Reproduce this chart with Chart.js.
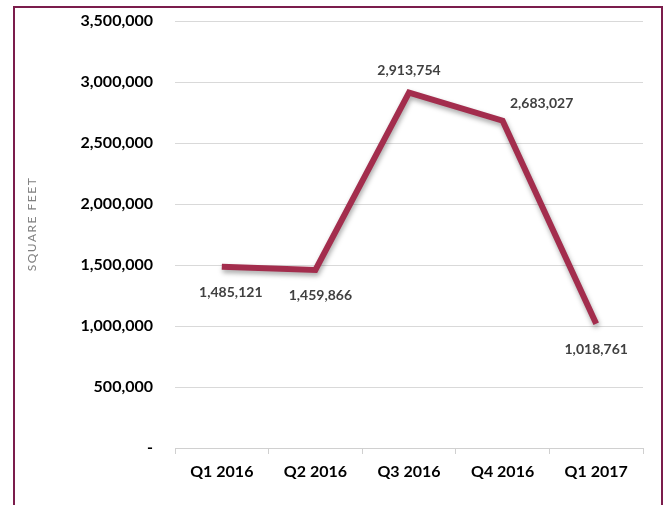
<!DOCTYPE html>
<html>
<head>
<meta charset="utf-8">
<script src="https://cdn.jsdelivr.net/npm/chart.js@4"></script>
<style>
  html, body { margin: 0; padding: 0; background: #fff; }
  #frame {
    position: absolute; left: 13px; top: 6px; width: 646px; height: 520px;
    border: 2px solid #7b1d4c;
  }
  #wrap { position: absolute; left: 0; top: 0; width: 665px; height: 505px; }
</style>
</head>
<body>
<div id="frame"></div>
<div id="wrap"><canvas id="lineChart" width="665" height="505"></canvas></div>
<script>
// Quarterly values (square feet)
const quarters = ['Q1 2016', 'Q2 2016', 'Q3 2016', 'Q4 2016', 'Q1 2017'];
const squareFeet = [1485121, 1459866, 2913754, 2683027, 1018761];
const yTicks = [0, 500000, 1000000, 1500000, 2000000, 2500000, 3000000, 3500000];

// where each value label sits relative to its point (px)
const labelOffsets = [[9, 26], [5, 26], [0, -22], [39, -17], [0, 26]];

const fontFamily = 'Lato, "Open Sans", sans-serif';

function fmt(v) {
    return v === 0 ? '-' : v.toLocaleString('en-US');
}

// soft drop shadow under the line
const shadowPlugin = {
    id: 'lineShadow',
    beforeDatasetsDraw(chart) {
        const c = chart.ctx;
        c.save();
        c.shadowColor = 'rgba(0,0,0,0.35)';
        c.shadowBlur = 5;
        c.shadowOffsetX = 1;
        c.shadowOffsetY = 3;
    },
    afterDatasetsDraw(chart) {
        chart.ctx.restore();
    }
};

// value labels next to each point
const valueLabels = {
    id: 'valueLabels',
    afterDraw(chart) {
        const c = chart.ctx;
        const meta = chart.getDatasetMeta(0);
        c.save();
        c.font = 'bold 14px ' + fontFamily;
        c.fillStyle = '#404040';
        c.textAlign = 'center';
        c.textBaseline = 'middle';
        meta.data.forEach((pt, i) => {
            const off = labelOffsets[i];
            c.fillText(fmt(squareFeet[i]), pt.x + off[0], pt.y + off[1]);
        });
        c.restore();
    }
};

// y axis title, drawn by hand so it can be letter-spaced
const yTitle = {
    id: 'yTitle',
    afterDraw(chart) {
        const c = chart.ctx;
        c.save();
        c.translate(32, 224);
        c.rotate(-Math.PI / 2);
        c.font = '12px ' + fontFamily;
        c.letterSpacing = '1.5px';
        c.fillStyle = '#808080';
        c.textAlign = 'center';
        c.textBaseline = 'middle';
        c.fillText('SQUARE FEET', 0, 0);
        c.restore();
    }
};

new Chart(document.getElementById('lineChart'), {
    type: 'line',
    data: {
        labels: quarters,
        datasets: [{
            label: 'Square Feet',
            data: squareFeet,
            borderColor: '#a32d4d',
            borderWidth: 6,
            borderJoinStyle: 'miter',
            pointRadius: 0,
            tension: 0,
            fill: false
        }]
    },
    options: {
        responsive: false,
        animation: false,
        layout: { padding: { top: 0, right: 22, left: 0, bottom: 0 } },
        plugins: {
            legend: { display: false },
            tooltip: { enabled: false }
        },
        scales: {
            x: {
                offset: true,
                grid: {
                    offset: true,
                    drawOnChartArea: false,
                    drawTicks: true,
                    tickLength: 6,
                    color: '#d0d0d0'
                },
                border: { display: true, color: '#d0d0d0' },
                ticks: {
                    color: '#000',
                    padding: 8,
                    font: { family: fontFamily, size: 16, weight: 'bold' }
                },
                afterFit(s) { s.height = 57; }
            },
            y: {
                min: 0,
                max: 3500000,
                afterBuildTicks(s) { s.ticks = yTicks.map(v => ({ value: v })); },
                grid: { color: '#d9d9d9', drawTicks: false },
                border: { display: false },
                ticks: {
                    color: '#000',
                    padding: 22,
                    font: { family: fontFamily, size: 16, weight: 'bold' },
                    callback: v => fmt(v)
                },
                afterFit(s) {
                    s.width = 175;
                    s.paddingTop = 21;
                    s.paddingBottom = 10;
                }
            }
        }
    },
    plugins: [shadowPlugin, valueLabels, yTitle]
});
</script>
</body>
</html>
